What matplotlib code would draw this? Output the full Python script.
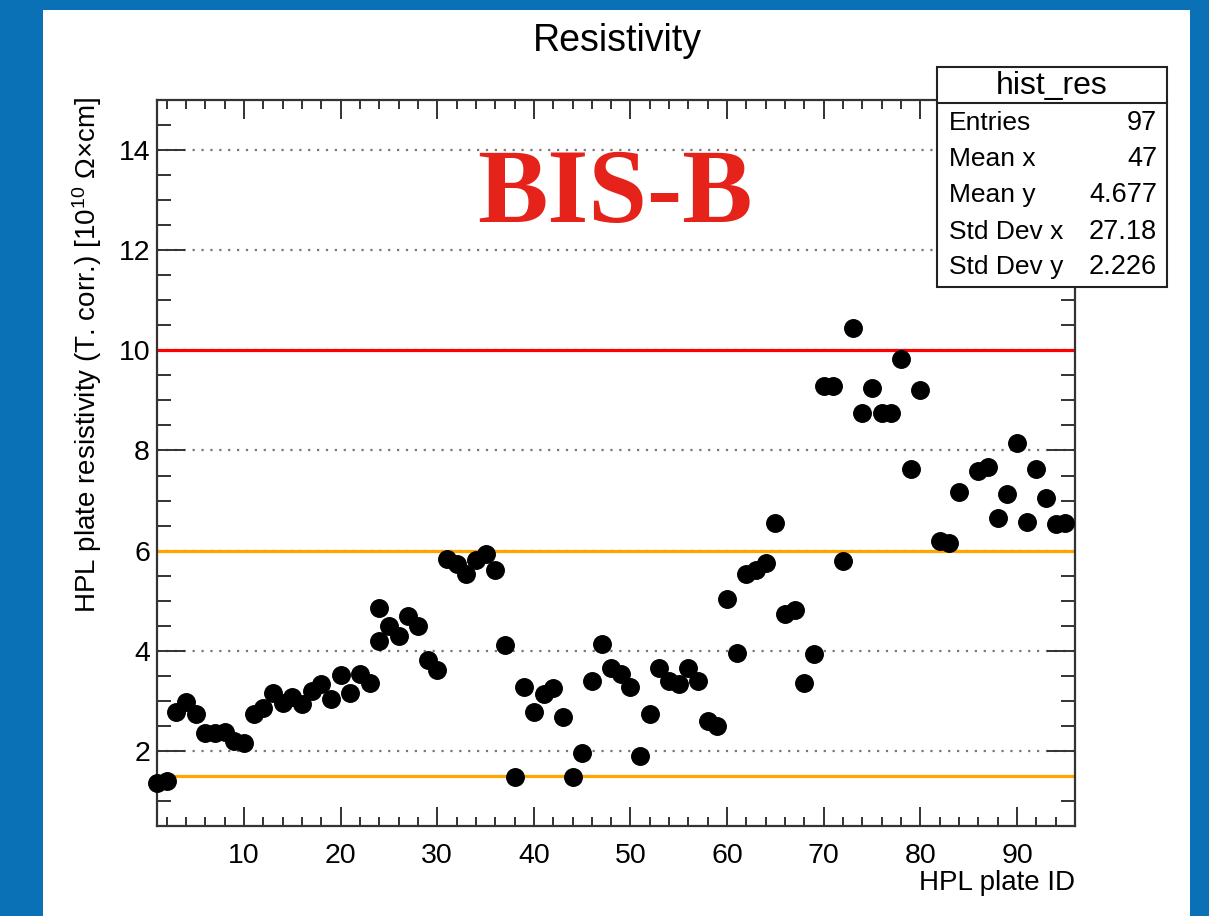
import matplotlib.pyplot as plt
from matplotlib.patches import Rectangle
from matplotlib.lines import Line2D
from matplotlib.ticker import MultipleLocator

# plate id / resistivity
plate_id = [1, 2, 3, 4, 5, 6, 7, 8, 9, 10,
            11, 12, 13, 14, 15, 16, 17, 18, 19, 20,
            21, 22, 23, 24, 24, 25, 26, 27, 28, 29, 30,
            31, 32, 33, 34, 35, 36, 37, 38, 39, 40,
            41, 42, 43, 44, 45, 46, 47, 48, 49, 50,
            51, 52, 53, 54, 55, 56, 57, 58, 59, 60,
            61, 62, 63, 64, 65, 66, 67, 68, 69, 70,
            71, 72, 73, 74, 75, 76, 77, 78, 79, 80,
            82, 83, 84, 86, 87, 88, 89, 90,
            91, 92, 93, 94, 95]
resistivity = [1.35, 1.40, 2.77, 2.98, 2.73, 2.35, 2.35, 2.37, 2.20, 2.16,
               2.74, 2.86, 3.16, 2.96, 3.08, 2.93, 3.20, 3.33, 3.03, 3.52,
               3.15, 3.53, 3.36, 4.85, 4.20, 4.50, 4.30, 4.70, 4.50, 3.81, 3.61,
               5.84, 5.73, 5.53, 5.81, 5.94, 5.61, 4.12, 1.47, 3.28, 2.78,
               3.13, 3.25, 2.67, 1.47, 1.95, 3.40, 4.13, 3.66, 3.54, 3.28,
               1.90, 2.73, 3.66, 3.40, 3.34, 3.66, 3.40, 2.59, 2.50, 5.04,
               3.96, 5.53, 5.61, 5.76, 6.56, 4.73, 4.81, 3.35, 3.93, 9.29,
               9.29, 5.79, 10.44, 8.74, 9.24, 8.74, 8.74, 9.82, 7.64, 9.21,
               6.19, 6.15, 7.18, 7.59, 7.68, 6.65, 7.14, 8.14,
               6.57, 7.64, 7.06, 6.53, 6.56]

limits = [1.5, 6.0, 10.0]
limit_colors = ["orange", "orange", "red"]

stat_names = ["Entries", "Mean x", "Mean y", "Std Dev x", "Std Dev y"]
stat_values = ["97", "47", "4.677", "27.18", "2.226"]

plt.rcParams["font.family"] = ["Liberation Sans", "DejaVu Sans"]
plt.rcParams["mathtext.fontset"] = "custom"
plt.rcParams["mathtext.rm"] = "Liberation Sans"
plt.rcParams["mathtext.default"] = "regular"

W, H = 1209, 916
fig = plt.figure(figsize=(W / 100, H / 100), dpi=100, facecolor="#0a71b6")
fig.patches.append(Rectangle((43 / W, 0), (1190 - 43) / W, 1 - 10 / H,
                             transform=fig.transFigure, facecolor="white",
                             edgecolor="none", zorder=-5))

ax = fig.add_axes([157 / W, 1 - 826 / H, (1075 - 157) / W, (826 - 100) / H])
ax.set_xlim(1, 96)
ax.set_ylim(0.5, 15)

ax.grid(axis="y", linestyle=(0, (1, 3)), color="#777777", linewidth=1.6)
for val, c in zip(limits, limit_colors):
    ax.axhline(val, color=c, linewidth=2.3, zorder=2)

ax.plot(plate_id, resistivity, "o", color="black", markersize=12.6,
        clip_on=False, zorder=3)

ax.xaxis.set_major_locator(MultipleLocator(10))
ax.xaxis.set_minor_locator(MultipleLocator(2))
ax.yaxis.set_major_locator(MultipleLocator(2))
ax.yaxis.set_minor_locator(MultipleLocator(0.5))
ax.tick_params(which="both", direction="in", top=True, right=True,
               labelsize=20.5, color="#333333", width=1.4)
ax.tick_params(axis="y", which="major", length=20, pad=5)
ax.tick_params(axis="y", which="minor", length=10)
ax.tick_params(axis="x", which="major", length=13.5, pad=12)
ax.tick_params(axis="x", which="minor", length=6.5)
for s in ax.spines.values():
    s.set_linewidth(1.6)
    s.set_color("#333333")

ax.set_xlabel("HPL plate ID", fontsize=20, loc="right")
ax.xaxis.set_label_coords(1.0, -0.06)
ax.set_ylabel("HPL plate resistivity (T. corr.) [10$^{10}$ \u03a9\u00d7cm]",
              fontsize=20, loc="top")
ax.yaxis.set_label_coords(-0.058, 1.004)

fig.text(617 / W, 1 - 41 / H, "Resistivity", fontsize=27,
         ha="center", va="center")

fig.text(615 / W, 1 - 222 / H, "BIS-B", fontsize=76, fontweight="bold",
         family="Liberation Serif", color="#e5231b", ha="center",
         va="baseline", zorder=4)

# stats box
bx0, bx1, by0, by1, hy = 937, 1167, 67, 287, 103
fig.patches.append(Rectangle((bx0 / W, 1 - by1 / H), (bx1 - bx0) / W,
                             (by1 - by0) / H, transform=fig.transFigure,
                             facecolor="white", edgecolor="#222222",
                             linewidth=1.5, zorder=5))
fig.lines.append(Line2D([bx0 / W, bx1 / W], [1 - hy / H, 1 - hy / H],
                        transform=fig.transFigure, color="#222222",
                        linewidth=1.5, zorder=6))
fig.text((bx0 + bx1) / 2 / W, 1 - 86 / H, "hist_res", fontsize=23,
         ha="center", va="center", zorder=7)
row_y = [123, 159, 195, 232, 267]
for name, val, yy in zip(stat_names, stat_values, row_y):
    fig.text(949 / W, 1 - yy / H, name, fontsize=19, ha="left",
             va="center", zorder=7)
    fig.text(1157 / W, 1 - yy / H, val, fontsize=19.5, ha="right",
             va="center", zorder=7)

fig.savefig("out.png", dpi=100, facecolor=fig.get_facecolor())
